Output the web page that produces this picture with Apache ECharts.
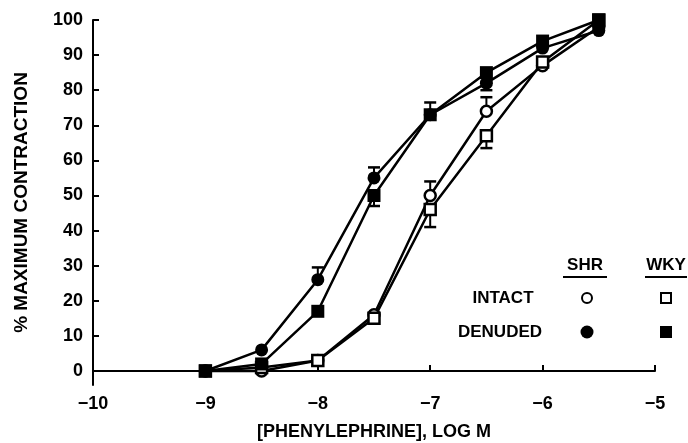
<!DOCTYPE html>
<html>
<head>
<meta charset="utf-8">
<script src="https://cdn.jsdelivr.net/npm/echarts@6/dist/echarts.min.js"></script>
<style>
  html, body { margin: 0; padding: 0; background: #fff; }
  #chart { width: 688px; height: 443px; }
</style>
</head>
<body>
<div id="chart"></div>
<script>
// log molar concentrations
const logConc = [-9, -8.5, -8, -7.5, -7, -6.5, -6, -5.5]

// % maximum contraction
const shrIntact = [0, 0, 3, 16, 50, 74, 87, 98]
const wkyIntact = [0, 1, 3, 15, 46, 67, 88, 100]
const shrDenuded = [0, 6, 26, 55, 73, 82, 92, 97]
const wkyDenuded = [0, 2, 17, 50, 73, 85, 94, 100]

// one-sided SEM bars: [x, mean, end]
const shrIntactErr = [[-7, 50, 54], [-6.5, 74, 78]]
const wkyIntactErr = [[-7, 46, 41], [-6.5, 67, 63.5]]
const shrDenudedErr = [[-8, 26, 29.5], [-7.5, 55, 58], [-7, 73, 76.5]]
const wkyDenudedErr = [[-7.5, 50, 47], [-6.5, 85, 80]]

const yTicks = [0, 10, 20, 30, 40, 50, 60, 70, 80, 90, 100]

const FONT = 'Liberation Sans'
const pair = (ys) => logConc.map((x, i) => [x, ys[i]])

const errSeries = (data) => ({
  type: 'custom',
  silent: true,
  z: 1,
  data: data,
  renderItem: function (params, api) {
    const p0 = api.coord([api.value(0), api.value(1)])
    const p1 = api.coord([api.value(0), api.value(2)])
    const w = 6
    return {
      type: 'group',
      children: [
        { type: 'line', shape: { x1: p0[0], y1: p0[1], x2: p1[0], y2: p1[1] }, style: { stroke: '#000', lineWidth: 2 } },
        { type: 'line', shape: { x1: p1[0] - w, y1: p1[1], x2: p1[0] + w, y2: p1[1] }, style: { stroke: '#000', lineWidth: 2.5 } },
      ],
    }
  },
})

const lineSeries = (name, ys, symbol, filled) => ({
  name: name,
  type: 'line',
  data: pair(ys),
  symbol: symbol,
  symbolSize: filled ? 13 : 11,
  showSymbol: true,
  z: 2,
  lineStyle: { color: '#000', width: 2.5 },
  itemStyle: { color: filled ? '#000' : '#fff', borderColor: '#000', borderWidth: filled ? 0 : 2.5 },
})

const legendText = (text, x, y) => ({
  type: 'text',
  style: { x: x, y: y, text: text, font: 'bold 17px ' + FONT, fill: '#000', align: 'center', verticalAlign: 'middle' },
})

const chart = echarts.init(document.getElementById('chart'))
chart.setOption({
  animation: false,
  grid: { left: 93, right: 33, top: 20, bottom: 58, outerBoundsMode: 'none' },
  xAxis: {
    type: 'value',
    min: -10,
    max: -5,
    interval: 1,
    name: '[PHENYLEPHRINE], LOG M',
    nameLocation: 'middle',
    nameGap: 38,
    nameTextStyle: { fontFamily: FONT, fontWeight: 'bold', fontSize: 18, color: '#000' },
    axisLine: { lineStyle: { color: '#000', width: 2 } },
    axisTick: { inside: true, length: 6, lineStyle: { color: '#000', width: 2 } },
    axisLabel: {
      fontFamily: FONT, fontWeight: 'bold', fontSize: 18, color: '#000', margin: 10,
      formatter: (v) => '\u2212' + Math.abs(v),
    },
    splitLine: { show: false },
  },
  yAxis: {
    type: 'value',
    min: -4,
    max: 100,
    name: '% MAXIMUM CONTRACTION',
    nameLocation: 'middle',
    nameGap: 62,
    nameTextStyle: { fontFamily: FONT, fontWeight: 'bold', fontSize: 19, color: '#000' },
    axisLine: { lineStyle: { color: '#000', width: 2 } },
    axisTick: { inside: true, length: 6, customValues: yTicks, lineStyle: { color: '#000', width: 2 } },
    axisLabel: { fontFamily: FONT, fontWeight: 'bold', fontSize: 18, color: '#000', margin: 10, customValues: yTicks },
    splitLine: { show: false },
  },
  series: [
    errSeries(shrIntactErr),
    errSeries(wkyIntactErr),
    errSeries(shrDenudedErr),
    errSeries(wkyDenudedErr),
    lineSeries('SHR intact', shrIntact, 'circle', false),
    lineSeries('WKY intact', wkyIntact, 'rect', false),
    lineSeries('SHR denuded', shrDenuded, 'circle', true),
    lineSeries('WKY denuded', wkyDenuded, 'rect', true),
  ],
  graphic: [
    legendText('SHR', 585, 265),
    { type: 'line', shape: { x1: 563, y1: 277, x2: 607, y2: 277 }, style: { stroke: '#000', lineWidth: 2 } },
    legendText('WKY', 666, 265),
    { type: 'line', shape: { x1: 645, y1: 277, x2: 687, y2: 277 }, style: { stroke: '#000', lineWidth: 2 } },
    legendText('INTACT', 503, 298),
    legendText('DENUDED', 500, 332),
    { type: 'circle', shape: { cx: 587, cy: 298, r: 5 }, style: { fill: '#fff', stroke: '#000', lineWidth: 2 } },
    { type: 'rect', shape: { x: 661, y: 293, width: 10, height: 10 }, style: { fill: '#fff', stroke: '#000', lineWidth: 2 } },
    { type: 'circle', shape: { cx: 587, cy: 332, r: 6.5 }, style: { fill: '#000' } },
    { type: 'rect', shape: { x: 660, y: 326, width: 12, height: 12 }, style: { fill: '#000' } },
  ],
})
</script>
</body>
</html>
